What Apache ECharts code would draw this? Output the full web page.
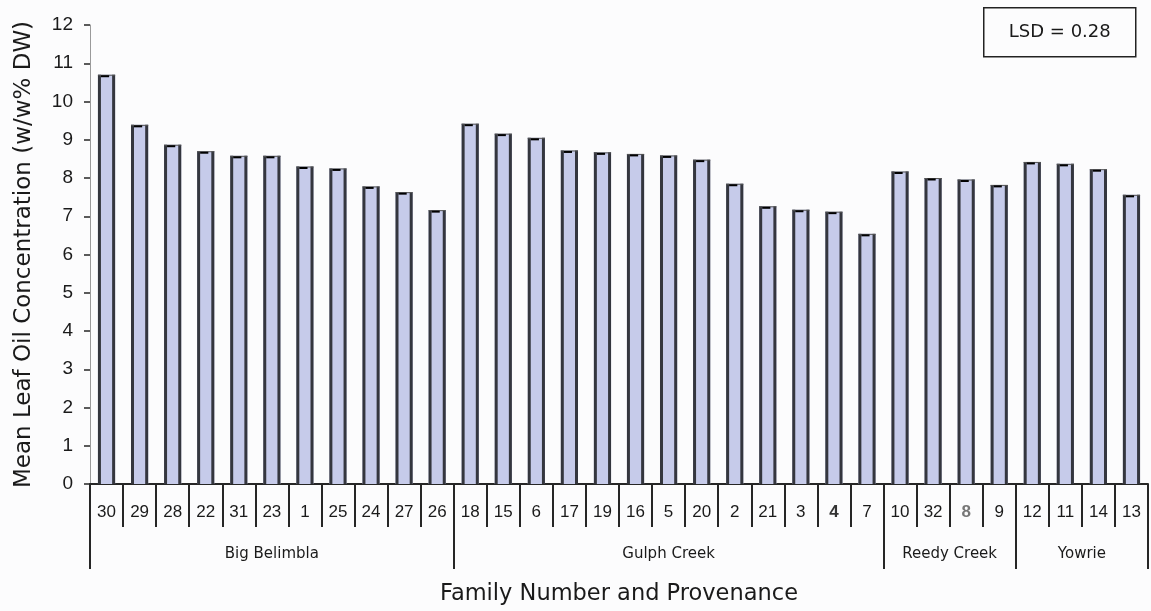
<!DOCTYPE html>
<html>
<head>
<meta charset="utf-8">
<script src="https://cdn.jsdelivr.net/npm/echarts@6/dist/echarts.min.js"></script>
<style>
  html, body { margin: 0; padding: 0; background: #fcfcfd; }
  #chart { width: 1151px; height: 611px; }
</style>
</head>
<body>
<div id="chart"></div>
<script>
// Family numbers, in plotted order
const families = ['30','29','28','22','31','23','1','25','24','27','26',
                  '18','15','6','17','19','16','5','20','2','21','3','4','7',
                  '10','32','8','9',
                  '12','11','14','13'];
// Mean leaf oil concentration (w/w% DW) per family
const oilValues = [10.70, 9.39, 8.87, 8.70, 8.58, 8.58, 8.30, 8.25, 7.78, 7.63, 7.16,
                   9.42, 9.16, 9.05, 8.72, 8.67, 8.63, 8.59, 8.48, 7.85, 7.26, 7.17, 7.12, 6.54,
                   8.17, 8.00, 7.96, 7.82,
                   8.42, 8.37, 8.23, 7.56];
// Provenances and how many families each holds
const provenances = ['Big Belimbla', 'Gulph Creek', 'Reedy Creek', 'Yowrie'];
const provenanceSizes = [11, 13, 4, 4];
const yTicks = [0, 12, 1]; // min, max, step
const lsdText = 'LSD = 0.28';

// group boundaries and centres along the category scale
const bounds = [0];
provenanceSizes.forEach(n => bounds.push(bounds[bounds.length - 1] + n));
const centres = provenanceSizes.map((n, i) => bounds[i] + n / 2);

const chart = echarts.init(document.getElementById('chart'));
const textDark = '#1a1a1a';
const lineDark = '#262626';
const numFont = "'Liberation Sans', Arial, sans-serif";
const wordFont = "'DejaVu Sans', sans-serif";

chart.setOption({
  backgroundColor: '#fcfcfd',
  animation: false,
  grid: { left: 90, right: 3, top: 25, bottom: 127 },
  xAxis: [
    {
      type: 'category',
      data: families,
      position: 'bottom',
      axisLine: { lineStyle: { color: lineDark, width: 2 } },
      axisTick: { show: true, length: 43, lineStyle: { color: lineDark, width: 2 } },
      axisLabel: {
        interval: 0, margin: 20, color: textDark, fontSize: 17,
        fontFamily: numFont,
        formatter: function (v) {
          if (v === '4') return '{b|4}';
          if (v === '8') return '{g|8}';
          return v;
        },
        rich: {
          b: { fontWeight: 'bold', color: '#333', fontSize: 17, fontFamily: numFont },
          g: { fontWeight: 'bold', color: '#777', fontSize: 17, fontFamily: numFont }
        }
      },
      splitLine: { show: false }
    },
    {
      type: 'value',
      min: 0,
      max: bounds[bounds.length - 1],
      position: 'bottom',
      axisLine: { show: false },
      axisTick: { show: true, customValues: bounds, length: 85, lineStyle: { color: lineDark, width: 2 } },
      axisLabel: {
        customValues: centres,
        margin: 63,
        color: textDark,
        fontSize: 15,
        fontFamily: wordFont,
        formatter: function (v) {
          const i = centres.indexOf(v);
          return i >= 0 ? provenances[i] : '';
        }
      },
      splitLine: { show: false },
      name: 'Family Number and Provenance',
      nameLocation: 'middle',
      nameGap: 99,
      nameTextStyle: { fontSize: 22.5, color: textDark, fontFamily: wordFont }
    }
  ],
  yAxis: {
    type: 'value',
    min: yTicks[0],
    max: yTicks[1],
    interval: yTicks[2],
    axisLine: { show: true, lineStyle: { color: '#9a9a9a', width: 1 } },
    axisTick: { show: true, length: 6, lineStyle: { color: lineDark, width: 1.5 } },
    axisLabel: { margin: 17, color: textDark, fontSize: 19, fontFamily: numFont },
    splitLine: { show: false },
    name: 'Mean Leaf Oil Concentration (w/w% DW)',
    nameLocation: 'middle',
    nameGap: 54,
    nameTextStyle: { fontSize: 23, color: textDark, fontFamily: wordFont }
  },
  series: [{
    type: 'custom',
    xAxisIndex: 0,
    yAxisIndex: 0,
    data: oilValues.map((v, i) => [i, v]),
    encode: { x: 0, y: 1 },
    renderItem: function (params, api) {
      const top = api.coord([api.value(0), api.value(1)]);
      const base = api.coord([api.value(0), 0]);
      const band = api.size([1, 0])[0];
      const w = band * 0.52;
      const x0 = top[0] - w / 2;
      const h = base[1] - top[1];
      return {
        type: 'group',
        children: [
          { type: 'rect', shape: { x: x0, y: top[1], width: w, height: h }, style: { fill: '#c6cbea' } },
          { type: 'line', shape: { x1: x0 + 1.5, y1: top[1], x2: x0 + 1.5, y2: base[1] }, style: { stroke: '#34363e', lineWidth: 3 } },
          { type: 'line', shape: { x1: x0 + w - 1.5, y1: top[1], x2: x0 + w - 1.5, y2: base[1] }, style: { stroke: '#34363e', lineWidth: 3 } },
          { type: 'line', shape: { x1: x0, y1: top[1] + 0.5, x2: x0 + w, y2: top[1] + 0.5 }, style: { stroke: '#555', lineWidth: 1 } },
          { type: 'line', shape: { x1: x0 + 3, y1: top[1] + 1.5, x2: x0 + w - 6, y2: top[1] + 1.5 }, style: { stroke: '#000', lineWidth: 2 } }
        ]
      };
    }
  }],
  graphic: [{
    type: 'group',
    left: 983,
    top: 7,
    children: [
      { type: 'rect', shape: { x: 0, y: 0, width: 152, height: 49 }, style: { fill: '#fcfcfd', stroke: '#222', lineWidth: 1.5 } },
      { type: 'text', x: 76, y: 25, style: { text: lsdText, fontSize: 18, fill: textDark, fontFamily: wordFont, align: 'center', verticalAlign: 'middle' } }
    ]
  }]
});
</script>
</body>
</html>
